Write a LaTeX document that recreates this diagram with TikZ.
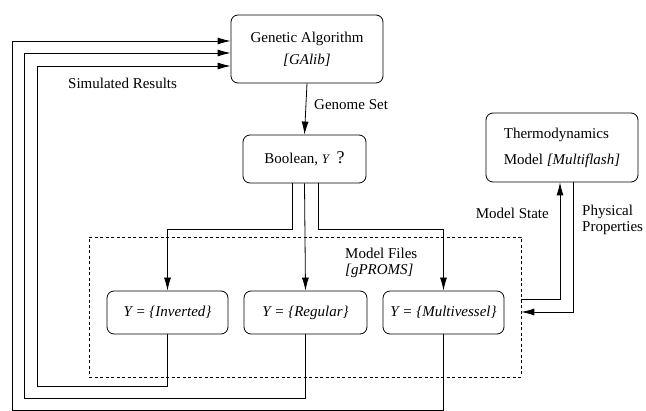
\documentclass[tikz,border=0pt]{standalone}
\usepackage{fontspec}
\setmainfont{Liberation Serif}
\usetikzlibrary{arrows.meta,calc}
\begin{document}
\begin{tikzpicture}[x=1pt,y=-1pt,
  every node/.style={font=\fontsize{15}{16}\selectfont},
  box/.style={draw,rounded corners=7pt,line width=0.8pt,inner sep=0pt,align=center},
  line/.style={line width=0.8pt},
  arr/.style={line width=0.8pt,-{Latex[length=13pt,width=7pt]}},
  lbl/.style={inner sep=0pt,anchor=west}]
\useasboundingbox (0,0) rectangle (646,411);
% dashed model files region
\node[draw,dashed,dash pattern=on 3pt off 2.5pt,line width=0.6pt,minimum width=432pt,minimum height=140pt,inner sep=0pt] (files) at (305,307) {};
% boxes
\node[box,minimum width=152pt,minimum height=68pt] (ga) at (307,49) {Genetic Algorithm\\[6pt]\textit{[GAlib]}};
\node[box,minimum width=123pt,minimum height=48pt] (bool) at (304.5,159) {Boolean, {\fontsize{13}{16}\selectfont\textit{Y}}\, {\fontsize{18}{16}\selectfont ?}};
\node[box,minimum width=121pt,minimum height=43pt] (inv) at (167.5,312.5) {\textit{Y = \{Inverted\}}};
\node[box,minimum width=123pt,minimum height=43pt] (reg) at (305.5,312.5) {\textit{Y = \{Regular\}}};
\node[box,minimum width=121pt,minimum height=43pt] (mv) at (443.5,312.5) {\textit{Y = \{Multivessel\}}};
\node[box,minimum width=152pt,minimum height=69pt,align=left] (thermo) at (562,147.5) {Thermodynamics\\[10pt]Model \textit{[Multiflash]}};
% labels
\node[lbl] (simres) at (68,83) {Simulated Results};
\node[lbl] (genome) at (314,105) {Genome Set};
\node[lbl,align=left,anchor=north west] (mfiles) at (345,248) {Model Files\\\textit{[gPROMS]}};
\node[inner sep=0pt,anchor=east] (mstate) at (549,213) {Model State};
\node[lbl,align=left,anchor=north west] (phys) at (582,205) {Physical\\Properties};
% coordinates for return paths
\coordinate (r1) at (12,410);
\coordinate (r2) at (24,398);
\coordinate (r3) at (37,386);
\coordinate (ms) at ([yshift=8pt]files.east);
\coordinate (pp) at ([yshift=-5pt]files.east);
% connectors
\draw[arr] (ga.south) -- (bool.north);
\draw[arr] ([xshift=-12.5pt]bool.south) -- ++(0,46) -| (inv.north);
\draw[arr] (bool.south) -- (reg.north);
\draw[arr] ([xshift=13.5pt]bool.south) -- ++(0,46) -| (mv.north);
\draw[arr] (inv.south) |- (r3) |- ([yshift=-17pt]ga.west);
\draw[arr] (reg.south) |- (r2) |- ([yshift=-4pt]ga.west);
\draw[arr] (mv.south) |- (r1) |- ([yshift=8pt]ga.west);
\draw[arr] (ms) -| ([xshift=-2pt]thermo.south);
\draw[arr] ([xshift=11pt]thermo.south) |- (pp);
\end{tikzpicture}
\end{document}
